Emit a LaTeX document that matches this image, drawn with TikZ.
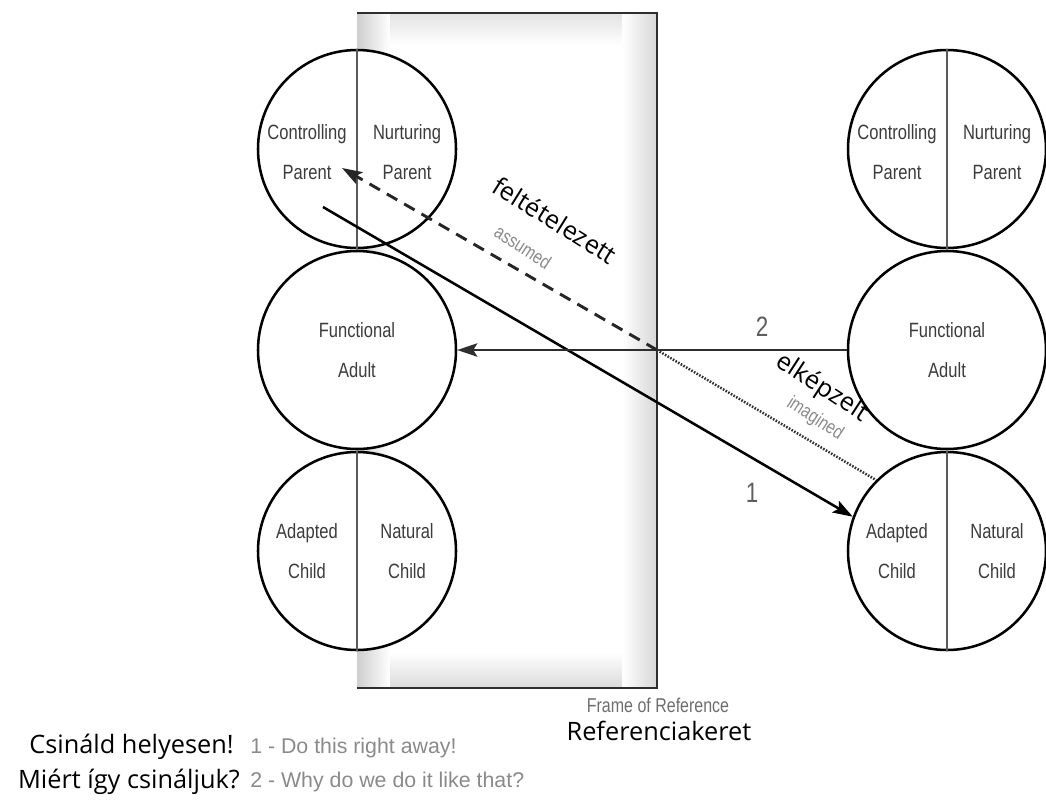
\documentclass[tikz,border=0pt]{standalone}
\usepackage{fontspec}
\setmainfont{Open Sans}
\newfontfamily\condf[FakeStretch=0.8]{Liberation Sans}
\newfontfamily\arialf{Liberation Sans}
\usetikzlibrary{arrows.meta}
\definecolor{lbl}{HTML}{3C3C3C}
\definecolor{engc}{HTML}{8A8A8A}
\definecolor{numc}{HTML}{5E5E5E}
\definecolor{framec}{HTML}{2E2E2E}
\begin{document}
\begin{tikzpicture}[x=0.75pt,y=-0.75pt,
  ego/.style={circle, draw=black, line width=1.9pt, fill=white, minimum size=148.5pt, inner sep=0pt},
  divider/.style={draw=gray!70!black, line width=1.1pt},
  clabel/.style={font=\condf\fontsize{15.5}{30}\selectfont, text=lbl, align=center, inner sep=0pt},
  frameline/.style={draw=framec, line width=2.2pt},
  solidarr/.style={draw=black, line width=1.9pt, -{Stealth[length=15pt,width=10pt,inset=3pt]}},
  dasharr/.style={draw=black!85, line width=2.2pt, dash pattern=on 9pt off 6pt, -{Stealth[length=15pt,width=10pt,inset=3pt]}},
  dotline/.style={draw=black!80, line width=1.9pt, dash pattern=on 1.2pt off 1.1pt},
  num/.style={font=\condf\fontsize{21}{22}\selectfont, text=numc, inner sep=0pt},
  hun/.style={font=\fontsize{19}{22}\selectfont, text=black, inner sep=0pt},
  eng/.style={font=\condf\fontsize{14.5}{15}\selectfont, text=engc, inner sep=0pt},
  frl/.style={font=\condf\fontsize{15}{16}\selectfont, text=engc!80!black, inner sep=0pt},
  leg/.style={font=\arialf\fontsize{16}{18}\selectfont, text=engc, inner sep=0pt}
]
\useasboundingbox (0,0) rectangle (1046,801);

% Frame of reference
\fill[white] (357,13) rectangle (657,688);
\shade[left color=gray!38, right color=white] (357,13) rectangle (390,688);
\shade[left color=white, right color=gray!32] (622,13) rectangle (657,688);
\shade[top color=gray!22, bottom color=white] (390,13) rectangle (622,45);
\shade[top color=white, bottom color=gray!28] (390,652) rectangle (622,688);
\draw[frameline] (357,13) -- (657,13) -- (657,688) -- (357,688);

% Left ego states
\node[ego] (LP) at (357,149) {};
\node[ego] (LA) at (357,350) {};
\node[ego] (LC) at (357,551) {};
\draw[divider] (LP.north) -- (LP.south);
\draw[divider] (LC.north) -- (LC.south);

% Right ego states
\node[ego] (RP) at (947,149) {};
\node[ego] (RA) at (947,350) {};
\node[ego] (RC) at (947,551) {};
\draw[divider] (RP.north) -- (RP.south);
\draw[divider] (RC.north) -- (RC.south);

% Circle labels
\node[clabel] (lcp) at (307,152) {Controlling\\Parent};
\node[clabel] (lnp) at (407,152) {Nurturing\\Parent};
\node[clabel] (lfa) at (357,350) {Functional\\Adult};
\node[clabel] (lac) at (307,551) {Adapted\\Child};
\node[clabel] (lnc) at (407,551) {Natural\\Child};
\node[clabel] (rcp) at (897,152) {Controlling\\Parent};
\node[clabel] (rnp) at (997,152) {Nurturing\\Parent};
\node[clabel] (rfa) at (947,350) {Functional\\Adult};
\node[clabel] (rac) at (897,551) {Adapted\\Child};
\node[clabel] (rnc) at (997,551) {Natural\\Child};

% Transactions
\coordinate (s1) at (323,207);
\coordinate (jx) at (657,350);
\coordinate (tp) at (342,168);
\draw[solidarr] (s1) -- (RC.160);
\draw[solidarr, draw=framec] (RA.west) -- (LA.east);
\draw[dasharr] (jx) -- (tp);
\draw[dotline] (jx) -- (RC.135);

% Labels on transactions
\node[num] (n2) at (762,327) {2};
\node[num] (n1) at (752,493) {1};
\node[hun, rotate=-32] (fel) at (555,220) {feltételezett};
\node[eng, rotate=-33] (ass) at (523,247) {assumed};
\node[hun, rotate=-33] (elk) at (822,388) {elképzelt};
\node[eng, rotate=-33] (ima) at (815,419) {imagined};

% Frame caption
\node[frl, anchor=base] (for) at (658,712) {Frame of Reference};
\node[hun, anchor=base] (ref) at (659,740) {Referenciakeret};

% Legend
\node[hun, anchor=base east] (csi) at (234,753) {Csináld helyesen!};
\node[hun, anchor=base east] (mie) at (240,788) {Miért így csináljuk?};
\node[leg, anchor=base west] (l1) at (250,753) {1 - Do this right away!};
\node[leg, anchor=base west] (l2) at (250,787) {2 - Why do we do it like that?};
\end{tikzpicture}
\end{document}
